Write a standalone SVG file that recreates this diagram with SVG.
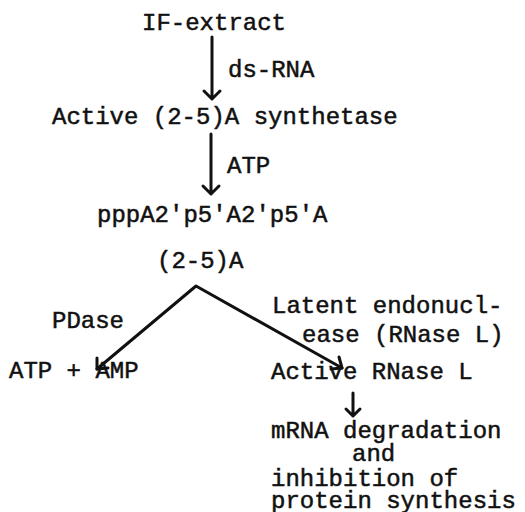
<svg xmlns="http://www.w3.org/2000/svg" width="525" height="512" viewBox="0 0 525 512">
<style>
text{font-family:"Liberation Mono","DejaVu Sans Mono",monospace;font-size:24px;fill:#111;stroke:#111;stroke-width:0.5;}
.c{stroke:#111;stroke-width:3;fill:none;stroke-linecap:round;stroke-linejoin:round;}
</style>
<rect width="525" height="512" fill="#fff"/>
<g id="n1"><text x="142" y="30">IF-extract</text></g>
<g id="n2"><text x="52" y="124">Active (2-5)A synthetase</text></g>
<g id="n3"><text x="97" y="222">pppA2'p5'A2'p5'A</text></g>
<g id="n4"><text x="157" y="268">(2-5)A</text></g>
<g id="n5"><text x="9" y="378">ATP + AMP</text></g>
<g id="n6"><text x="271" y="379">Active RNase L</text></g>
<g id="n7"><text x="271" y="438">mRNA degradation</text><text x="352" y="461">and</text><text x="271" y="486">inhibition of</text><text x="271" y="508">protein synthesis</text></g>
<g id="labels">
<text x="228" y="77">ds-RNA</text>
<text x="227" y="173">ATP</text>
<text x="52" y="328">PDase</text>
<text x="272" y="313">Latent endonucl-</text>
<text x="302" y="342">ease (RNase L)</text>
</g>
<g id="connectors">
<path class="c" d="M212 37V99M204 91L212 99L220 91"/>
<path class="c" d="M211 134V194M203 186L211 194L219 186"/>
<path class="c" d="M97 369L196 286L342 368"/>
<path class="c" d="M97 358L97 369L108 368"/>
<path class="c" d="M339 357L342 368L331 369"/>
<path class="c" d="M353 393V416M346 409L353 416L360 409"/>
</g>
</svg>
